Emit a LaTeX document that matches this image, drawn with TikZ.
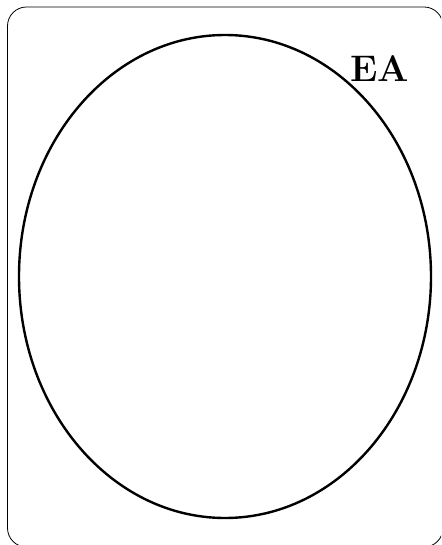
\documentclass[tikz,border=0pt]{standalone}
\usepackage{amsmath}
\usepackage{tikz}

\begin{document}
\begin{tikzpicture}[x=0.5pt,y=-0.5pt,line width=.4pt,font=\fontsize{18.5}{22}\selectfont]
\useasboundingbox (0,0) rectangle (441,545);
\clip (0,0) rectangle (441,545);
\draw[rounded corners=9.5pt] (7.5,7)--(443,7)--(443,547)--(7.5,547)--cycle;
\draw[line width=1.2pt] (225,276.5) ellipse [x radius=206,y radius=241.5];
\node[inner sep=0pt] (ea) at (380,69) {\textbf{EA}};
\end{tikzpicture}
\end{document}
